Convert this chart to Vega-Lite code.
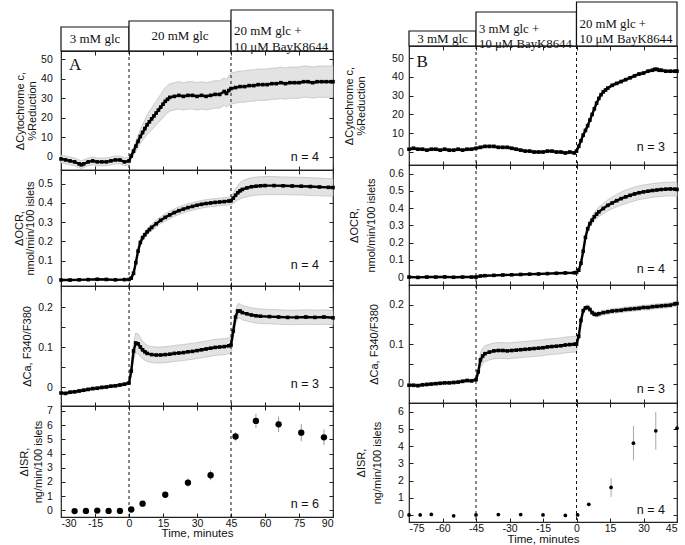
{
  "$schema": "https://vega.github.io/schema/vega-lite/v6.json",
  "background": "white",
  "padding": {"left": 12, "top": 1, "right": 0, "bottom": 0},
  "config": {
    "view": {"stroke": "#222", "strokeWidth": 1.2},
    "axis": {"domain": false, "grid": false, "tickSize": -4, "tickColor": "#222", "labelFont": "Liberation Sans", "labelFontSize": 10.5, "labelColor": "#111", "titleFont": "Liberation Sans", "titleFontSize": 11, "titleFontWeight": "normal", "titleColor": "#111"}
  },
  "spacing": 4,
  "hconcat": [
    {
      "spacing": 0,
      "bounds": "flush",
      "vconcat": [
        {
          "width": 272, "height": 49,
          "view": {"stroke": null},
          "data": {"name": "hA"},
          "transform": [{"calculate": "datum.level/2", "as": "mid"}, {"calculate": "(datum.x1+datum.x2)/2", "as": "cx"}],
          "layer": [
            {"mark": {"type": "rect", "fill": "white", "stroke": "#111", "strokeWidth": 1.2},
             "encoding": {
               "x": {"field": "x1", "type": "quantitative", "scale": {"domain": [-30, 90], "nice": false}, "axis": null},
               "x2": {"field": "x2"},
               "y": {"field": "level", "type": "quantitative", "scale": {"domain": [0, 49], "nice": false}, "axis": null},
               "y2": {"datum": 0}}},
            {"transform": [{"filter": "datum.lines == 1"}],
             "mark": {"type": "text", "font": "Liberation Serif", "fontSize": 13, "align": "center", "baseline": "middle", "color": "#111"},
             "encoding": {
               "x": {"field": "cx", "type": "quantitative", "scale": {"domain": [-30, 90], "nice": false}, "axis": null},
               "y": {"field": "mid", "type": "quantitative", "scale": {"domain": [0, 49], "nice": false}, "axis": null},
               "text": {"field": "label"}}},
            {"transform": [{"filter": "datum.lines == 2"}],
             "mark": {"type": "text", "font": "Liberation Serif", "fontSize": 13, "align": "left", "baseline": "middle", "dx": 3, "lineBreak": "\n", "lineHeight": 16, "color": "#111"},
             "encoding": {
               "x": {"field": "x1", "type": "quantitative", "scale": {"domain": [-30, 90], "nice": false}, "axis": null},
               "y": {"field": "mid", "type": "quantitative", "scale": {"domain": [0, 49], "nice": false}, "axis": null},
               "text": {"field": "label"}}}
          ]
        },
        {
          "width": 272, "height": 119,
          "layer": [
            {"data": {"name": "A1"},
             "transform": [{"calculate": "datum.v-datum.e", "as": "lo"}, {"calculate": "datum.v+datum.e", "as": "hi"}],
             "mark": {"type": "area", "fill": "#e3e3e3", "stroke": "#b3b3b3", "strokeWidth": 0.6},
             "encoding": {
               "x": {"field": "t", "type": "quantitative", "scale": {"domain": [-30, 90], "nice": false}, "axis": {"orient": "top", "labels": false, "title": null, "values": [-30, -15, 0, 15, 30, 45, 60, 75, 90]}},
               "y": {"field": "lo", "type": "quantitative", "scale": {"domain": [-6.65, 54.2], "nice": false}, "axis": {"orient": "right", "labels": false, "title": null, "values": [0, 10, 20, 30, 40, 50]}},
               "y2": {"field": "hi"}}},
            {"data": {"name": "bA"},
             "mark": {"type": "rule", "color": "#111", "strokeDash": [3, 3], "strokeWidth": 1},
             "encoding": {"x": {"field": "t", "type": "quantitative", "scale": {"domain": [-30, 90], "nice": false}, "axis": null}}},
            {"data": {"name": "A1"},
             "mark": {"type": "line", "color": "#000", "strokeWidth": 2.4},
             "encoding": {
               "x": {"field": "t", "type": "quantitative", "scale": {"domain": [-30, 90], "nice": false}, "axis": {"orient": "bottom", "labels": false, "title": null, "values": [-30, -15, 0, 15, 30, 45, 60, 75, 90]}},
               "y": {"field": "v", "type": "quantitative", "scale": {"domain": [-6.65, 54.2], "nice": false}, "axis": {"orient": "left", "values": [0, 10, 20, 30, 40, 50], "labelExpr": "''+datum.value", "labelPadding": 12.7, "title": ["ΔCytochrome c,", "%Reduction"], "titleX": -35.3, "titleLineHeight": 12}}}},
            {"data": {"name": "A1"},
             "mark": {"type": "square", "color": "#000", "size": 13, "opacity": 1},
             "encoding": {
               "x": {"field": "t", "type": "quantitative", "axis": null},
               "y": {"field": "v", "type": "quantitative", "axis": null}}},
            {"data": {"values": [{"label": "n = 4"}]},
             "mark": {"type": "text", "font": "Liberation Sans", "fontSize": 12.5, "align": "right", "baseline": "middle", "dx": -14, "color": "#111"},
             "encoding": {"x": {"datum": 90, "type": "quantitative", "axis": null}, "y": {"datum": 0, "type": "quantitative", "axis": null}, "text": {"field": "label"}}},
            {"data": {"values": [{"label": "A"}]},
             "mark": {"type": "text", "font": "Liberation Serif", "fontSize": 17, "align": "left", "baseline": "alphabetic", "color": "#111"},
             "encoding": {"x": {"datum": -26.5, "type": "quantitative", "axis": null}, "y": {"datum": 44.5, "type": "quantitative", "axis": null}, "text": {"field": "label"}}}
          ],
          "resolve": {"axis": {"x": "independent", "y": "independent"}}
        },
        {
          "width": 272, "height": 116,
          "layer": [
            {"data": {"name": "A2"},
             "transform": [{"calculate": "datum.v-datum.e", "as": "lo"}, {"calculate": "datum.v+datum.e", "as": "hi"}],
             "mark": {"type": "area", "fill": "#e3e3e3", "stroke": "#b3b3b3", "strokeWidth": 0.6},
             "encoding": {
               "x": {"field": "t", "type": "quantitative", "scale": {"domain": [-30, 90], "nice": false}, "axis": {"orient": "top", "labels": false, "title": null, "values": [-30, -15, 0, 15, 30, 45, 60, 75, 90]}},
               "y": {"field": "lo", "type": "quantitative", "scale": {"domain": [-0.031, 0.571], "nice": false}, "axis": {"orient": "right", "labels": false, "title": null, "values": [0, 0.1, 0.2, 0.3, 0.4, 0.5]}},
               "y2": {"field": "hi"}}},
            {"data": {"name": "bA"},
             "mark": {"type": "rule", "color": "#111", "strokeDash": [3, 3], "strokeWidth": 1},
             "encoding": {"x": {"field": "t", "type": "quantitative", "scale": {"domain": [-30, 90], "nice": false}, "axis": null}}},
            {"data": {"name": "A2"},
             "mark": {"type": "line", "color": "#000", "strokeWidth": 2.4},
             "encoding": {
               "x": {"field": "t", "type": "quantitative", "scale": {"domain": [-30, 90], "nice": false}, "axis": {"orient": "bottom", "labels": false, "title": null, "values": [-30, -15, 0, 15, 30, 45, 60, 75, 90]}},
               "y": {"field": "v", "type": "quantitative", "scale": {"domain": [-0.031, 0.571], "nice": false}, "axis": {"orient": "left", "values": [0, 0.1, 0.2, 0.3, 0.4, 0.5], "labelExpr": "''+datum.value", "labelPadding": 12.7, "title": ["ΔOCR,", "nmol/min/100 islets"], "titleX": -37, "titleLineHeight": 11.5}}}},
            {"data": {"name": "A2"},
             "mark": {"type": "square", "color": "#000", "size": 13, "opacity": 1},
             "encoding": {
               "x": {"field": "t", "type": "quantitative", "axis": null},
               "y": {"field": "v", "type": "quantitative", "axis": null}}},
            {"data": {"values": [{"label": "n = 4"}]},
             "mark": {"type": "text", "font": "Liberation Sans", "fontSize": 12.5, "align": "right", "baseline": "middle", "dx": -14, "color": "#111"},
             "encoding": {"x": {"datum": 90, "type": "quantitative", "axis": null}, "y": {"datum": 0.076, "type": "quantitative", "axis": null}, "text": {"field": "label"}}}
          ],
          "resolve": {"axis": {"x": "independent", "y": "independent"}}
        },
        {
          "width": 272, "height": 120,
          "layer": [
            {"data": {"name": "A3"},
             "transform": [{"calculate": "datum.v-datum.e", "as": "lo"}, {"calculate": "datum.v+datum.e", "as": "hi"}],
             "mark": {"type": "area", "fill": "#e3e3e3", "stroke": "#b3b3b3", "strokeWidth": 0.6},
             "encoding": {
               "x": {"field": "t", "type": "quantitative", "scale": {"domain": [-30, 90], "nice": false}, "axis": {"orient": "top", "labels": false, "title": null, "values": [-30, -15, 0, 15, 30, 45, 60, 75, 90]}},
               "y": {"field": "lo", "type": "quantitative", "scale": {"domain": [-0.0475, 0.2525], "nice": false}, "axis": {"orient": "right", "labels": false, "title": null, "values": [0, 0.05, 0.1, 0.15, 0.2]}},
               "y2": {"field": "hi"}}},
            {"data": {"name": "bA"},
             "mark": {"type": "rule", "color": "#111", "strokeDash": [3, 3], "strokeWidth": 1},
             "encoding": {"x": {"field": "t", "type": "quantitative", "scale": {"domain": [-30, 90], "nice": false}, "axis": null}}},
            {"data": {"name": "A3"},
             "mark": {"type": "line", "color": "#000", "strokeWidth": 2.4},
             "encoding": {
               "x": {"field": "t", "type": "quantitative", "scale": {"domain": [-30, 90], "nice": false}, "axis": {"orient": "bottom", "labels": false, "title": null, "values": [-30, -15, 0, 15, 30, 45, 60, 75, 90]}},
               "y": {"field": "v", "type": "quantitative", "scale": {"domain": [-0.0475, 0.2525], "nice": false}, "axis": {"orient": "left", "values": [0, 0.05, 0.1, 0.15, 0.2], "labelExpr": "round(datum.value*20)%2==0 ? ''+datum.value : ''", "labelPadding": 12.7, "title": "ΔCa, F340/F380", "titleX": -28.7}}}},
            {"data": {"name": "A3"},
             "mark": {"type": "square", "color": "#000", "size": 13, "opacity": 1},
             "encoding": {
               "x": {"field": "t", "type": "quantitative", "axis": null},
               "y": {"field": "v", "type": "quantitative", "axis": null}}},
            {"data": {"values": [{"label": "n = 3"}]},
             "mark": {"type": "text", "font": "Liberation Sans", "fontSize": 12.5, "align": "right", "baseline": "middle", "dx": -14, "color": "#111"},
             "encoding": {"x": {"datum": 90, "type": "quantitative", "axis": null}, "y": {"datum": 0.008, "type": "quantitative", "axis": null}, "text": {"field": "label"}}}
          ],
          "resolve": {"axis": {"x": "independent", "y": "independent"}}
        },
        {
          "width": 272, "height": 111,
          "layer": [
            {"data": {"name": "A4"},
             "transform": [{"calculate": "datum.v-datum.e", "as": "lo"}, {"calculate": "datum.v+datum.e", "as": "hi"}],
             "mark": {"type": "rule", "color": "#9a9a9a", "strokeWidth": 1},
             "encoding": {
               "x": {"field": "t", "type": "quantitative", "scale": {"domain": [-30, 90], "nice": false}, "axis": {"orient": "top", "labels": false, "title": null, "values": [-30, -15, 0, 15, 30, 45, 60, 75, 90]}},
               "y": {"field": "lo", "type": "quantitative", "scale": {"domain": [-0.47, 7.35], "nice": false}, "axis": {"orient": "right", "labels": false, "title": null, "values": [0, 1, 2, 3, 4, 5, 6, 7]}},
               "y2": {"field": "hi"}}},
            {"data": {"name": "bA"},
             "mark": {"type": "rule", "color": "#111", "strokeDash": [3, 3], "strokeWidth": 1},
             "encoding": {"x": {"field": "t", "type": "quantitative", "scale": {"domain": [-30, 90], "nice": false}, "axis": null}}},
            {"data": {"name": "A4"},
             "mark": {"type": "circle", "color": "#000", "size": 40, "opacity": 1},
             "encoding": {
               "x": {"field": "t", "type": "quantitative", "scale": {"domain": [-30, 90], "nice": false}, "axis": {"orient": "bottom", "values": [-30, -15, 0, 15, 30, 45, 60, 75, 90], "labelExpr": "''+datum.value", "labelPadding": 5, "title": "Time, minutes", "titlePadding": -1, "titleFontSize": 11.5}},
               "y": {"field": "v", "type": "quantitative", "scale": {"domain": [-0.47, 7.35], "nice": false}, "axis": {"orient": "left", "values": [0, 1, 2, 3, 4, 5, 6, 7], "labelExpr": "''+datum.value", "labelPadding": 12.7, "title": ["ΔISR,", "ng/min/100 islets"], "titleX": -32, "titleLineHeight": 14}}}},
            {"data": {"values": [{"label": "n = 6"}]},
             "mark": {"type": "text", "font": "Liberation Sans", "fontSize": 12.5, "align": "right", "baseline": "middle", "dx": -14, "color": "#111"},
             "encoding": {"x": {"datum": 90, "type": "quantitative", "axis": null}, "y": {"datum": 0.42, "type": "quantitative", "axis": null}, "text": {"field": "label"}}}
          ],
          "resolve": {"axis": {"x": "independent", "y": "independent"}}
        }
      ]
    },
    {
      "spacing": 0,
      "bounds": "flush",
      "vconcat": [
        {
          "width": 268, "height": 44,
          "view": {"stroke": null},
          "data": {"name": "hB"},
          "transform": [{"calculate": "datum.level/2", "as": "mid"}, {"calculate": "(datum.x1+datum.x2)/2", "as": "cx"}],
          "layer": [
            {"mark": {"type": "rect", "fill": "white", "stroke": "#111", "strokeWidth": 1.2},
             "encoding": {
               "x": {"field": "x1", "type": "quantitative", "scale": {"domain": [-75, 45], "nice": false}, "axis": null},
               "x2": {"field": "x2"},
               "y": {"field": "level", "type": "quantitative", "scale": {"domain": [0, 44], "nice": false}, "axis": null},
               "y2": {"datum": 0}}},
            {"transform": [{"filter": "datum.lines == 1"}],
             "mark": {"type": "text", "font": "Liberation Serif", "fontSize": 13, "align": "center", "baseline": "middle", "color": "#111"},
             "encoding": {
               "x": {"field": "cx", "type": "quantitative", "scale": {"domain": [-75, 45], "nice": false}, "axis": null},
               "y": {"field": "mid", "type": "quantitative", "scale": {"domain": [0, 44], "nice": false}, "axis": null},
               "text": {"field": "label"}}},
            {"transform": [{"filter": "datum.lines == 2"}],
             "mark": {"type": "text", "font": "Liberation Serif", "fontSize": 12.8, "align": "left", "baseline": "middle", "dx": 3, "lineBreak": "\n", "lineHeight": 15, "color": "#111"},
             "encoding": {
               "x": {"field": "x1", "type": "quantitative", "scale": {"domain": [-75, 45], "nice": false}, "axis": null},
               "y": {"field": "mid", "type": "quantitative", "scale": {"domain": [0, 44], "nice": false}, "axis": null},
               "text": {"field": "label"}}}
          ]
        },
        {
          "width": 268, "height": 119,
          "layer": [
            {"data": {"name": "B1"},
             "transform": [{"calculate": "datum.v-datum.e", "as": "lo"}, {"calculate": "datum.v+datum.e", "as": "hi"}],
             "mark": {"type": "area", "fill": "#e3e3e3", "stroke": "#b3b3b3", "strokeWidth": 0.6},
             "encoding": {
               "x": {"field": "t", "type": "quantitative", "scale": {"domain": [-75, 45], "nice": false}, "axis": {"orient": "top", "labels": false, "title": null, "values": [-75, -60, -45, -30, -15, 0, 15, 30, 45]}},
               "y": {"field": "lo", "type": "quantitative", "scale": {"domain": [-6.9, 56.4], "nice": false}, "axis": {"orient": "right", "labels": false, "title": null, "values": [0, 10, 20, 30, 40, 50]}},
               "y2": {"field": "hi"}}},
            {"data": {"name": "bB"},
             "mark": {"type": "rule", "color": "#111", "strokeDash": [3, 3], "strokeWidth": 1},
             "encoding": {"x": {"field": "t", "type": "quantitative", "scale": {"domain": [-75, 45], "nice": false}, "axis": null}}},
            {"data": {"name": "B1"},
             "mark": {"type": "line", "color": "#000", "strokeWidth": 2.4},
             "encoding": {
               "x": {"field": "t", "type": "quantitative", "scale": {"domain": [-75, 45], "nice": false}, "axis": {"orient": "bottom", "labels": false, "title": null, "values": [-75, -60, -45, -30, -15, 0, 15, 30, 45]}},
               "y": {"field": "v", "type": "quantitative", "scale": {"domain": [-6.9, 56.4], "nice": false}, "axis": {"orient": "left", "values": [0, 10, 20, 30, 40, 50], "labelExpr": "''+datum.value", "labelPadding": 9.7, "title": ["ΔCytochrome c,", "%Reduction"], "titleX": -54.3, "titleLineHeight": 11.6}}}},
            {"data": {"name": "B1"},
             "mark": {"type": "square", "color": "#000", "size": 13, "opacity": 1},
             "encoding": {
               "x": {"field": "t", "type": "quantitative", "axis": null},
               "y": {"field": "v", "type": "quantitative", "axis": null}}},
            {"data": {"values": [{"label": "n = 3"}]},
             "mark": {"type": "text", "font": "Liberation Sans", "fontSize": 12.5, "align": "right", "baseline": "middle", "dx": -12, "color": "#111"},
             "encoding": {"x": {"datum": 45, "type": "quantitative", "axis": null}, "y": {"datum": 2.7, "type": "quantitative", "axis": null}, "text": {"field": "label"}}},
            {"data": {"values": [{"label": "B"}]},
             "mark": {"type": "text", "font": "Liberation Serif", "fontSize": 17, "align": "left", "baseline": "alphabetic", "color": "#111"},
             "encoding": {"x": {"datum": -71.6, "type": "quantitative", "axis": null}, "y": {"datum": 45.2, "type": "quantitative", "axis": null}, "text": {"field": "label"}}}
          ],
          "resolve": {"axis": {"x": "independent", "y": "independent"}}
        },
        {
          "width": 268, "height": 120,
          "layer": [
            {"data": {"name": "B2"},
             "transform": [{"calculate": "datum.v-datum.e", "as": "lo"}, {"calculate": "datum.v+datum.e", "as": "hi"}],
             "mark": {"type": "area", "fill": "#e3e3e3", "stroke": "#b3b3b3", "strokeWidth": 0.6},
             "encoding": {
               "x": {"field": "t", "type": "quantitative", "scale": {"domain": [-75, 45], "nice": false}, "axis": {"orient": "top", "labels": false, "title": null, "values": [-75, -60, -45, -30, -15, 0, 15, 30, 45]}},
               "y": {"field": "lo", "type": "quantitative", "scale": {"domain": [-0.046, 0.65], "nice": false}, "axis": {"orient": "right", "labels": false, "title": null, "values": [0, 0.1, 0.2, 0.3, 0.4, 0.5, 0.6]}},
               "y2": {"field": "hi"}}},
            {"data": {"name": "bB"},
             "mark": {"type": "rule", "color": "#111", "strokeDash": [3, 3], "strokeWidth": 1},
             "encoding": {"x": {"field": "t", "type": "quantitative", "scale": {"domain": [-75, 45], "nice": false}, "axis": null}}},
            {"data": {"name": "B2"},
             "mark": {"type": "line", "color": "#000", "strokeWidth": 2.4},
             "encoding": {
               "x": {"field": "t", "type": "quantitative", "scale": {"domain": [-75, 45], "nice": false}, "axis": {"orient": "bottom", "labels": false, "title": null, "values": [-75, -60, -45, -30, -15, 0, 15, 30, 45]}},
               "y": {"field": "v", "type": "quantitative", "scale": {"domain": [-0.046, 0.65], "nice": false}, "axis": {"orient": "left", "values": [0, 0.1, 0.2, 0.3, 0.4, 0.5, 0.6], "labelExpr": "''+datum.value", "labelPadding": 9.7, "title": ["ΔOCR,", "nmol/min/100 islets"], "titleX": -49.3, "titleLineHeight": 17}}}},
            {"data": {"name": "B2"},
             "mark": {"type": "square", "color": "#000", "size": 13, "opacity": 1},
             "encoding": {
               "x": {"field": "t", "type": "quantitative", "axis": null},
               "y": {"field": "v", "type": "quantitative", "axis": null}}},
            {"data": {"values": [{"label": "n = 4"}]},
             "mark": {"type": "text", "font": "Liberation Sans", "fontSize": 12.5, "align": "right", "baseline": "middle", "dx": -12, "color": "#111"},
             "encoding": {"x": {"datum": 45, "type": "quantitative", "axis": null}, "y": {"datum": 0.048, "type": "quantitative", "axis": null}, "text": {"field": "label"}}}
          ],
          "resolve": {"axis": {"x": "independent", "y": "independent"}}
        },
        {
          "width": 268, "height": 118,
          "layer": [
            {"data": {"name": "B3"},
             "transform": [{"calculate": "datum.v-datum.e", "as": "lo"}, {"calculate": "datum.v+datum.e", "as": "hi"}],
             "mark": {"type": "area", "fill": "#e3e3e3", "stroke": "#b3b3b3", "strokeWidth": 0.6},
             "encoding": {
               "x": {"field": "t", "type": "quantitative", "scale": {"domain": [-75, 45], "nice": false}, "axis": {"orient": "top", "labels": false, "title": null, "values": [-75, -60, -45, -30, -15, 0, 15, 30, 45]}},
               "y": {"field": "lo", "type": "quantitative", "scale": {"domain": [-0.049, 0.25], "nice": false}, "axis": {"orient": "right", "labels": false, "title": null, "values": [0, 0.05, 0.1, 0.15, 0.2]}},
               "y2": {"field": "hi"}}},
            {"data": {"name": "bB"},
             "mark": {"type": "rule", "color": "#111", "strokeDash": [3, 3], "strokeWidth": 1},
             "encoding": {"x": {"field": "t", "type": "quantitative", "scale": {"domain": [-75, 45], "nice": false}, "axis": null}}},
            {"data": {"name": "B3"},
             "mark": {"type": "line", "color": "#000", "strokeWidth": 2.4},
             "encoding": {
               "x": {"field": "t", "type": "quantitative", "scale": {"domain": [-75, 45], "nice": false}, "axis": {"orient": "bottom", "labels": false, "title": null, "values": [-75, -60, -45, -30, -15, 0, 15, 30, 45]}},
               "y": {"field": "v", "type": "quantitative", "scale": {"domain": [-0.049, 0.25], "nice": false}, "axis": {"orient": "left", "values": [0, 0.05, 0.1, 0.15, 0.2], "labelExpr": "round(datum.value*20)%2==0 ? ''+datum.value : ''", "labelPadding": 9.7, "title": "ΔCa, F340/F380", "titleX": -29.3}}}},
            {"data": {"name": "B3"},
             "mark": {"type": "square", "color": "#000", "size": 13, "opacity": 1},
             "encoding": {
               "x": {"field": "t", "type": "quantitative", "axis": null},
               "y": {"field": "v", "type": "quantitative", "axis": null}}},
            {"data": {"values": [{"label": "n = 3"}]},
             "mark": {"type": "text", "font": "Liberation Sans", "fontSize": 12.5, "align": "right", "baseline": "middle", "dx": -12, "color": "#111"},
             "encoding": {"x": {"datum": 45, "type": "quantitative", "axis": null}, "y": {"datum": -0.014, "type": "quantitative", "axis": null}, "text": {"field": "label"}}}
          ],
          "resolve": {"axis": {"x": "independent", "y": "independent"}}
        },
        {
          "width": 268, "height": 119,
          "layer": [
            {"data": {"name": "B4"},
             "transform": [{"calculate": "datum.v-datum.e", "as": "lo"}, {"calculate": "datum.v+datum.e", "as": "hi"}],
             "mark": {"type": "rule", "color": "#a8a8a8", "strokeWidth": 1},
             "encoding": {
               "x": {"field": "t", "type": "quantitative", "scale": {"domain": [-75, 45], "nice": false}, "axis": {"orient": "top", "labels": false, "title": null, "values": [-75, -60, -45, -30, -15, 0, 15, 30, 45]}},
               "y": {"field": "lo", "type": "quantitative", "scale": {"domain": [-0.41, 6.52], "nice": false}, "axis": {"orient": "right", "labels": false, "title": null, "values": [0, 1, 2, 3, 4, 5, 6]}},
               "y2": {"field": "hi"}}},
            {"data": {"name": "bB"},
             "mark": {"type": "rule", "color": "#111", "strokeDash": [3, 3], "strokeWidth": 1},
             "encoding": {"x": {"field": "t", "type": "quantitative", "scale": {"domain": [-75, 45], "nice": false}, "axis": null}}},
            {"data": {"name": "B4"},
             "mark": {"type": "circle", "color": "#000", "size": 14, "opacity": 1},
             "encoding": {
               "x": {"field": "t", "type": "quantitative", "scale": {"domain": [-75, 45], "nice": false}, "axis": {"orient": "bottom", "values": [-75, -60, -45, -30, -15, 0, 15, 30, 45], "labelExpr": "''+datum.value", "labelPadding": 5, "title": "Time, minutes", "titlePadding": -0.5, "titleFontSize": 11.5}},
               "y": {"field": "v", "type": "quantitative", "scale": {"domain": [-0.41, 6.52], "nice": false}, "axis": {"orient": "left", "values": [0, 1, 2, 3, 4, 5, 6], "labelExpr": "''+datum.value", "labelPadding": 9.7, "title": ["ΔISR,", "ng/min/100 islets"], "titleX": -42.7, "titleLineHeight": 16.7}}}},
            {"data": {"values": [{"label": "n = 4"}]},
             "mark": {"type": "text", "font": "Liberation Sans", "fontSize": 12.5, "align": "right", "baseline": "middle", "dx": -12, "color": "#111"},
             "encoding": {"x": {"datum": 45, "type": "quantitative", "axis": null}, "y": {"datum": 0.27, "type": "quantitative", "axis": null}, "text": {"field": "label"}}}
          ],
          "resolve": {"axis": {"x": "independent", "y": "independent"}}
        }
      ]
    }
  ],
  "datasets": {
    "bA": [{"t": 0}, {"t": 45}],
    "bB": [{"t": -45}, {"t": 0}],
    "hA": [
      {"x1": -30, "x2": 0, "level": 24, "lines": 1, "label": "3 mM glc"},
      {"x1": 0, "x2": 45, "level": 30, "lines": 1, "label": "20 mM glc"},
      {"x1": 45, "x2": 90, "level": 41, "lines": 2, "label": "20 mM glc +\n10 μM BayK8644"}
    ],
    "hB": [
      {"x1": -75, "x2": -45, "level": 15, "lines": 1, "label": "3 mM glc"},
      {"x1": -45, "x2": 0, "level": 34, "lines": 2, "label": "3 mM glc +\n10 μM BayK8644"},
      {"x1": 0, "x2": 45, "level": 44, "lines": 2, "label": "20 mM glc +\n10 μM BayK8644"}
    ],
    "A1": [
      {"t": -30, "v": -1, "e": 2}, {"t": -28, "v": -1.5, "e": 2}, {"t": -26, "v": -2, "e": 2}, {"t": -24, "v": -2.5, "e": 2},
      {"t": -22, "v": -3.5, "e": 2}, {"t": -21, "v": -4, "e": 2}, {"t": -20, "v": -3.5, "e": 2}, {"t": -18, "v": -2.5, "e": 2},
      {"t": -16, "v": -2, "e": 2}, {"t": -14, "v": -2.5, "e": 2}, {"t": -12, "v": -2.5, "e": 2}, {"t": -10, "v": -2.5, "e": 2},
      {"t": -8, "v": -2, "e": 2}, {"t": -6, "v": -1.5, "e": 2}, {"t": -4, "v": -1.5, "e": 2}, {"t": -2, "v": -2.5, "e": 2},
      {"t": 0, "v": -2, "e": 2}, {"t": 1, "v": 0.5, "e": 1.5}, {"t": 2, "v": 3, "e": 2}, {"t": 3, "v": 5.5, "e": 2.5},
      {"t": 4, "v": 8, "e": 3}, {"t": 5, "v": 10.5, "e": 3.5}, {"t": 6, "v": 12.5, "e": 4}, {"t": 7, "v": 14.5, "e": 4.5},
      {"t": 8, "v": 16.5, "e": 5}, {"t": 9, "v": 18, "e": 5.5}, {"t": 10, "v": 19.5, "e": 5.5}, {"t": 11, "v": 21, "e": 6},
      {"t": 12, "v": 22.5, "e": 6}, {"t": 13, "v": 24, "e": 6.5}, {"t": 14, "v": 25.5, "e": 6.5}, {"t": 15, "v": 27, "e": 7},
      {"t": 16, "v": 28.5, "e": 7}, {"t": 17, "v": 29.5, "e": 7}, {"t": 18, "v": 30.5, "e": 7}, {"t": 20, "v": 31, "e": 7},
      {"t": 22, "v": 31.5, "e": 7}, {"t": 24, "v": 31, "e": 7}, {"t": 26, "v": 31.5, "e": 7}, {"t": 28, "v": 31.5, "e": 7},
      {"t": 30, "v": 31, "e": 7}, {"t": 32, "v": 31.5, "e": 7}, {"t": 34, "v": 31, "e": 7}, {"t": 36, "v": 31.5, "e": 7},
      {"t": 38, "v": 32, "e": 7}, {"t": 40, "v": 32, "e": 7}, {"t": 42, "v": 33.5, "e": 7}, {"t": 43, "v": 32.5, "e": 7},
      {"t": 44, "v": 34, "e": 7.5}, {"t": 45, "v": 35, "e": 8}, {"t": 47, "v": 35.5, "e": 8}, {"t": 49, "v": 36, "e": 8},
      {"t": 51, "v": 36, "e": 8}, {"t": 53, "v": 36.5, "e": 8}, {"t": 55, "v": 36.5, "e": 8}, {"t": 57, "v": 37, "e": 8},
      {"t": 59, "v": 37, "e": 8}, {"t": 61, "v": 37, "e": 8}, {"t": 63, "v": 37.5, "e": 8}, {"t": 65, "v": 37.5, "e": 8},
      {"t": 67, "v": 38, "e": 8}, {"t": 69, "v": 37.5, "e": 8}, {"t": 71, "v": 38, "e": 8}, {"t": 73, "v": 38, "e": 8},
      {"t": 75, "v": 38, "e": 8}, {"t": 77, "v": 38.5, "e": 8}, {"t": 79, "v": 38.5, "e": 8}, {"t": 81, "v": 38, "e": 8},
      {"t": 83, "v": 38.5, "e": 8}, {"t": 85, "v": 38.5, "e": 8}, {"t": 87, "v": 38.5, "e": 8}, {"t": 89, "v": 38.5, "e": 8},
      {"t": 90, "v": 38.5, "e": 8}
    ],
    "A2": [
      {"t": -30, "v": 0, "e": 0.003}, {"t": -26, "v": 0, "e": 0.003}, {"t": -22, "v": 0.001, "e": 0.003}, {"t": -18, "v": 0.002, "e": 0.003},
      {"t": -14, "v": 0.004, "e": 0.003}, {"t": -10, "v": 0.003, "e": 0.003}, {"t": -6, "v": 0.001, "e": 0.003}, {"t": -2, "v": 0.002, "e": 0.003},
      {"t": 0, "v": 0.003, "e": 0.003}, {"t": 1, "v": 0.01, "e": 0.005}, {"t": 2, "v": 0.035, "e": 0.008}, {"t": 3, "v": 0.09, "e": 0.01},
      {"t": 4, "v": 0.15, "e": 0.012}, {"t": 5, "v": 0.195, "e": 0.014}, {"t": 6, "v": 0.22, "e": 0.015}, {"t": 7, "v": 0.235, "e": 0.015},
      {"t": 8, "v": 0.25, "e": 0.016}, {"t": 9, "v": 0.262, "e": 0.016}, {"t": 10, "v": 0.273, "e": 0.017}, {"t": 12, "v": 0.292, "e": 0.018},
      {"t": 14, "v": 0.31, "e": 0.018}, {"t": 16, "v": 0.325, "e": 0.019}, {"t": 18, "v": 0.338, "e": 0.02}, {"t": 20, "v": 0.35, "e": 0.02},
      {"t": 22, "v": 0.36, "e": 0.02}, {"t": 24, "v": 0.368, "e": 0.02}, {"t": 26, "v": 0.376, "e": 0.02}, {"t": 28, "v": 0.382, "e": 0.02},
      {"t": 30, "v": 0.388, "e": 0.02}, {"t": 32, "v": 0.393, "e": 0.02}, {"t": 34, "v": 0.397, "e": 0.02}, {"t": 36, "v": 0.4, "e": 0.02},
      {"t": 38, "v": 0.403, "e": 0.02}, {"t": 40, "v": 0.405, "e": 0.02}, {"t": 42, "v": 0.407, "e": 0.02}, {"t": 44, "v": 0.41, "e": 0.02},
      {"t": 45, "v": 0.412, "e": 0.022}, {"t": 46, "v": 0.425, "e": 0.028}, {"t": 47, "v": 0.44, "e": 0.033}, {"t": 48, "v": 0.453, "e": 0.038},
      {"t": 49, "v": 0.463, "e": 0.042}, {"t": 50, "v": 0.47, "e": 0.045}, {"t": 52, "v": 0.478, "e": 0.046}, {"t": 54, "v": 0.484, "e": 0.047},
      {"t": 56, "v": 0.487, "e": 0.047}, {"t": 58, "v": 0.489, "e": 0.047}, {"t": 60, "v": 0.49, "e": 0.047}, {"t": 64, "v": 0.49, "e": 0.047},
      {"t": 68, "v": 0.489, "e": 0.046}, {"t": 72, "v": 0.488, "e": 0.046}, {"t": 76, "v": 0.487, "e": 0.046}, {"t": 80, "v": 0.485, "e": 0.046},
      {"t": 84, "v": 0.483, "e": 0.046}, {"t": 88, "v": 0.481, "e": 0.045}, {"t": 90, "v": 0.48, "e": 0.045}
    ],
    "A3": [
      {"t": -30, "v": -0.015, "e": 0.004}, {"t": -28, "v": -0.016, "e": 0.004}, {"t": -26, "v": -0.013, "e": 0.004}, {"t": -24, "v": -0.012, "e": 0.004},
      {"t": -22, "v": -0.01, "e": 0.004}, {"t": -20, "v": -0.008, "e": 0.004}, {"t": -18, "v": -0.006, "e": 0.004}, {"t": -16, "v": -0.004, "e": 0.004},
      {"t": -14, "v": -0.003, "e": 0.004}, {"t": -12, "v": -0.001, "e": 0.004}, {"t": -10, "v": 0, "e": 0.004}, {"t": -8, "v": 0.002, "e": 0.004},
      {"t": -6, "v": 0.003, "e": 0.004}, {"t": -4, "v": 0.005, "e": 0.004}, {"t": -2, "v": 0.007, "e": 0.004}, {"t": 0, "v": 0.01, "e": 0.004},
      {"t": 1, "v": 0.04, "e": 0.015}, {"t": 2, "v": 0.09, "e": 0.022}, {"t": 3, "v": 0.11, "e": 0.025}, {"t": 4, "v": 0.108, "e": 0.025},
      {"t": 5, "v": 0.1, "e": 0.024}, {"t": 6, "v": 0.093, "e": 0.022}, {"t": 7, "v": 0.088, "e": 0.021}, {"t": 8, "v": 0.084, "e": 0.02},
      {"t": 10, "v": 0.081, "e": 0.02}, {"t": 12, "v": 0.08, "e": 0.02}, {"t": 14, "v": 0.08, "e": 0.02}, {"t": 16, "v": 0.081, "e": 0.02},
      {"t": 18, "v": 0.082, "e": 0.02}, {"t": 20, "v": 0.084, "e": 0.02}, {"t": 22, "v": 0.085, "e": 0.02}, {"t": 24, "v": 0.086, "e": 0.02},
      {"t": 26, "v": 0.088, "e": 0.02}, {"t": 28, "v": 0.089, "e": 0.02}, {"t": 30, "v": 0.091, "e": 0.02}, {"t": 32, "v": 0.093, "e": 0.02},
      {"t": 34, "v": 0.095, "e": 0.02}, {"t": 36, "v": 0.097, "e": 0.02}, {"t": 38, "v": 0.099, "e": 0.02}, {"t": 40, "v": 0.1, "e": 0.02},
      {"t": 42, "v": 0.101, "e": 0.02}, {"t": 44, "v": 0.103, "e": 0.02}, {"t": 45, "v": 0.105, "e": 0.02}, {"t": 46, "v": 0.14, "e": 0.018},
      {"t": 47, "v": 0.175, "e": 0.018}, {"t": 48, "v": 0.19, "e": 0.018}, {"t": 49, "v": 0.19, "e": 0.018}, {"t": 50, "v": 0.186, "e": 0.018},
      {"t": 52, "v": 0.183, "e": 0.018}, {"t": 54, "v": 0.18, "e": 0.018}, {"t": 56, "v": 0.178, "e": 0.018}, {"t": 58, "v": 0.177, "e": 0.018},
      {"t": 62, "v": 0.176, "e": 0.018}, {"t": 66, "v": 0.175, "e": 0.018}, {"t": 70, "v": 0.174, "e": 0.018}, {"t": 74, "v": 0.174, "e": 0.018},
      {"t": 78, "v": 0.175, "e": 0.018}, {"t": 82, "v": 0.174, "e": 0.018}, {"t": 86, "v": 0.175, "e": 0.018}, {"t": 90, "v": 0.173, "e": 0.018}
    ],
    "A4": [
      {"t": -24, "v": -0.05, "e": 0.03}, {"t": -19, "v": -0.04, "e": 0.03}, {"t": -14, "v": -0.02, "e": 0.03}, {"t": -9, "v": -0.04, "e": 0.03},
      {"t": -4, "v": -0.04, "e": 0.03}, {"t": 1, "v": 0.06, "e": 0.05}, {"t": 6, "v": 0.47, "e": 0.06}, {"t": 16, "v": 1.1, "e": 0.1},
      {"t": 26, "v": 1.95, "e": 0.3}, {"t": 36, "v": 2.47, "e": 0.35}, {"t": 47, "v": 5.2, "e": 0.3}, {"t": 56, "v": 6.3, "e": 0.5},
      {"t": 66, "v": 6.06, "e": 0.55}, {"t": 76, "v": 5.47, "e": 0.6}, {"t": 86, "v": 5.14, "e": 0.55}
    ],
    "B1": [
      {"t": -75, "v": 1.5, "e": 0.8}, {"t": -73, "v": 2, "e": 0.8}, {"t": -71, "v": 1.5, "e": 0.8}, {"t": -69, "v": 1.5, "e": 0.8},
      {"t": -67, "v": 1, "e": 0.8}, {"t": -65, "v": 1.5, "e": 0.8}, {"t": -63, "v": 1.5, "e": 0.8}, {"t": -61, "v": 1, "e": 0.8},
      {"t": -59, "v": 1.5, "e": 0.8}, {"t": -57, "v": 1, "e": 0.8}, {"t": -55, "v": 1, "e": 0.8}, {"t": -53, "v": 1.5, "e": 0.8},
      {"t": -51, "v": 1, "e": 0.8}, {"t": -49, "v": 1.5, "e": 0.8}, {"t": -47, "v": 1.5, "e": 0.8}, {"t": -45, "v": 2, "e": 0.8},
      {"t": -43, "v": 2.5, "e": 0.8}, {"t": -41, "v": 3, "e": 0.8}, {"t": -39, "v": 3, "e": 0.8}, {"t": -37, "v": 3, "e": 0.8},
      {"t": -35, "v": 2.5, "e": 0.8}, {"t": -33, "v": 2.5, "e": 0.8}, {"t": -31, "v": 2.5, "e": 0.8}, {"t": -29, "v": 2, "e": 0.8},
      {"t": -27, "v": 1.5, "e": 0.8}, {"t": -25, "v": 1, "e": 0.8}, {"t": -23, "v": 0.5, "e": 0.8}, {"t": -21, "v": 0.5, "e": 0.8},
      {"t": -19, "v": 0, "e": 0.8}, {"t": -17, "v": 0, "e": 0.8}, {"t": -15, "v": 0, "e": 0.8}, {"t": -13, "v": 0.5, "e": 0.8},
      {"t": -11, "v": 0.5, "e": 0.8}, {"t": -9, "v": 0, "e": 0.8}, {"t": -7, "v": 0, "e": 0.8}, {"t": -5, "v": -0.5, "e": 0.8},
      {"t": -3, "v": 0, "e": 0.8}, {"t": -1, "v": -0.5, "e": 0.8}, {"t": 0, "v": 0.5, "e": 0.8}, {"t": 1, "v": 3, "e": 0.8},
      {"t": 2, "v": 6, "e": 0.8}, {"t": 3, "v": 9, "e": 0.8}, {"t": 4, "v": 11.5, "e": 0.8}, {"t": 5, "v": 14, "e": 0.8},
      {"t": 6, "v": 17, "e": 0.8}, {"t": 7, "v": 20, "e": 0.8}, {"t": 8, "v": 23, "e": 0.8}, {"t": 9, "v": 26, "e": 0.8},
      {"t": 10, "v": 28.5, "e": 0.8}, {"t": 11, "v": 30.5, "e": 0.8}, {"t": 12, "v": 32, "e": 0.8}, {"t": 13, "v": 33, "e": 0.8},
      {"t": 14, "v": 34, "e": 0.8}, {"t": 16, "v": 35.5, "e": 0.8}, {"t": 18, "v": 36.5, "e": 0.8}, {"t": 20, "v": 37.5, "e": 0.8},
      {"t": 22, "v": 38.5, "e": 0.8}, {"t": 24, "v": 39.5, "e": 0.8}, {"t": 26, "v": 40.5, "e": 0.8}, {"t": 28, "v": 41.5, "e": 0.8},
      {"t": 30, "v": 42, "e": 0.8}, {"t": 32, "v": 43, "e": 0.8}, {"t": 34, "v": 43.5, "e": 0.8}, {"t": 35, "v": 44, "e": 0.8},
      {"t": 36, "v": 44, "e": 0.8}, {"t": 37, "v": 43.5, "e": 0.8}, {"t": 38, "v": 43.5, "e": 0.8}, {"t": 40, "v": 43, "e": 0.8},
      {"t": 42, "v": 43, "e": 0.8}, {"t": 44, "v": 43, "e": 0.8}, {"t": 45, "v": 43, "e": 0.8}
    ],
    "B2": [
      {"t": -75, "v": 0, "e": 0.004}, {"t": -71, "v": -0.002, "e": 0.004}, {"t": -67, "v": 0, "e": 0.004}, {"t": -63, "v": 0, "e": 0.004},
      {"t": -59, "v": 0.001, "e": 0.004}, {"t": -55, "v": -0.001, "e": 0.004}, {"t": -51, "v": 0, "e": 0.004}, {"t": -47, "v": 0, "e": 0.004},
      {"t": -45, "v": 0, "e": 0.004}, {"t": -43, "v": 0.006, "e": 0.004}, {"t": -41, "v": 0.008, "e": 0.004}, {"t": -37, "v": 0.01, "e": 0.004},
      {"t": -33, "v": 0.012, "e": 0.004}, {"t": -29, "v": 0.013, "e": 0.004}, {"t": -25, "v": 0.015, "e": 0.004}, {"t": -21, "v": 0.017, "e": 0.004},
      {"t": -17, "v": 0.018, "e": 0.004}, {"t": -13, "v": 0.02, "e": 0.004}, {"t": -9, "v": 0.022, "e": 0.004}, {"t": -5, "v": 0.024, "e": 0.004},
      {"t": -1, "v": 0.025, "e": 0.004}, {"t": 0, "v": 0.027, "e": 0.004}, {"t": 1, "v": 0.04, "e": 0.008}, {"t": 2, "v": 0.08, "e": 0.01},
      {"t": 3, "v": 0.15, "e": 0.012}, {"t": 4, "v": 0.23, "e": 0.015}, {"t": 5, "v": 0.28, "e": 0.018}, {"t": 6, "v": 0.31, "e": 0.02},
      {"t": 7, "v": 0.33, "e": 0.022}, {"t": 8, "v": 0.35, "e": 0.024}, {"t": 9, "v": 0.365, "e": 0.026}, {"t": 10, "v": 0.378, "e": 0.028},
      {"t": 12, "v": 0.398, "e": 0.03}, {"t": 14, "v": 0.416, "e": 0.032}, {"t": 16, "v": 0.43, "e": 0.034}, {"t": 18, "v": 0.443, "e": 0.036},
      {"t": 20, "v": 0.455, "e": 0.038}, {"t": 22, "v": 0.465, "e": 0.04}, {"t": 24, "v": 0.474, "e": 0.04}, {"t": 26, "v": 0.482, "e": 0.04},
      {"t": 28, "v": 0.489, "e": 0.04}, {"t": 30, "v": 0.494, "e": 0.04}, {"t": 32, "v": 0.498, "e": 0.04}, {"t": 34, "v": 0.502, "e": 0.04},
      {"t": 36, "v": 0.505, "e": 0.04}, {"t": 38, "v": 0.508, "e": 0.04}, {"t": 40, "v": 0.51, "e": 0.04}, {"t": 42, "v": 0.511, "e": 0.04},
      {"t": 44, "v": 0.51, "e": 0.04}, {"t": 45, "v": 0.508, "e": 0.04}
    ],
    "B3": [
      {"t": -75, "v": -0.004, "e": 0.004}, {"t": -73, "v": -0.004, "e": 0.004}, {"t": -71, "v": -0.005, "e": 0.004}, {"t": -69, "v": -0.003, "e": 0.004},
      {"t": -67, "v": -0.002, "e": 0.004}, {"t": -65, "v": -0.001, "e": 0.004}, {"t": -63, "v": 0, "e": 0.004}, {"t": -61, "v": 0.001, "e": 0.004},
      {"t": -59, "v": 0.002, "e": 0.004}, {"t": -57, "v": 0.002, "e": 0.004}, {"t": -55, "v": 0.003, "e": 0.004}, {"t": -53, "v": 0.004, "e": 0.004},
      {"t": -51, "v": 0.006, "e": 0.004}, {"t": -49, "v": 0.008, "e": 0.004}, {"t": -47, "v": 0.007, "e": 0.004}, {"t": -45, "v": 0.01, "e": 0.004},
      {"t": -44, "v": 0.03, "e": 0.012}, {"t": -43, "v": 0.06, "e": 0.018}, {"t": -42, "v": 0.07, "e": 0.02}, {"t": -41, "v": 0.076, "e": 0.02},
      {"t": -39, "v": 0.08, "e": 0.02}, {"t": -37, "v": 0.083, "e": 0.02}, {"t": -35, "v": 0.084, "e": 0.02}, {"t": -33, "v": 0.084, "e": 0.02},
      {"t": -31, "v": 0.083, "e": 0.02}, {"t": -29, "v": 0.084, "e": 0.02}, {"t": -27, "v": 0.085, "e": 0.02}, {"t": -25, "v": 0.086, "e": 0.02},
      {"t": -23, "v": 0.087, "e": 0.02}, {"t": -21, "v": 0.088, "e": 0.02}, {"t": -19, "v": 0.089, "e": 0.02}, {"t": -17, "v": 0.09, "e": 0.02},
      {"t": -15, "v": 0.091, "e": 0.02}, {"t": -13, "v": 0.093, "e": 0.02}, {"t": -11, "v": 0.094, "e": 0.02}, {"t": -9, "v": 0.095, "e": 0.02},
      {"t": -7, "v": 0.096, "e": 0.02}, {"t": -5, "v": 0.098, "e": 0.02}, {"t": -3, "v": 0.099, "e": 0.02}, {"t": -1, "v": 0.1, "e": 0.02},
      {"t": 0, "v": 0.1, "e": 0.02}, {"t": 1, "v": 0.12, "e": 0.008}, {"t": 2, "v": 0.16, "e": 0.007}, {"t": 3, "v": 0.185, "e": 0.006},
      {"t": 4, "v": 0.192, "e": 0.006}, {"t": 5, "v": 0.193, "e": 0.006}, {"t": 6, "v": 0.188, "e": 0.006}, {"t": 7, "v": 0.18, "e": 0.006},
      {"t": 8, "v": 0.176, "e": 0.006}, {"t": 9, "v": 0.175, "e": 0.006}, {"t": 10, "v": 0.177, "e": 0.006}, {"t": 12, "v": 0.18, "e": 0.006},
      {"t": 14, "v": 0.182, "e": 0.006}, {"t": 16, "v": 0.184, "e": 0.006}, {"t": 18, "v": 0.185, "e": 0.006}, {"t": 20, "v": 0.186, "e": 0.006},
      {"t": 22, "v": 0.188, "e": 0.006}, {"t": 24, "v": 0.189, "e": 0.006}, {"t": 26, "v": 0.19, "e": 0.006}, {"t": 28, "v": 0.191, "e": 0.006},
      {"t": 30, "v": 0.193, "e": 0.006}, {"t": 32, "v": 0.193, "e": 0.006}, {"t": 34, "v": 0.195, "e": 0.006}, {"t": 36, "v": 0.196, "e": 0.006},
      {"t": 38, "v": 0.197, "e": 0.006}, {"t": 40, "v": 0.198, "e": 0.006}, {"t": 42, "v": 0.199, "e": 0.006}, {"t": 44, "v": 0.202, "e": 0.006},
      {"t": 45, "v": 0.203, "e": 0.006}
    ],
    "B4": [
      {"t": -75, "v": 0, "e": 0}, {"t": -70, "v": 0, "e": 0}, {"t": -65, "v": 0.03, "e": 0}, {"t": -55, "v": -0.05, "e": 0},
      {"t": -45, "v": 0, "e": 0}, {"t": -35, "v": 0.02, "e": 0}, {"t": -25, "v": 0.02, "e": 0}, {"t": -15, "v": 0, "e": 0},
      {"t": -5, "v": -0.03, "e": 0}, {"t": 0.5, "v": 0, "e": 0}, {"t": 5.5, "v": 0.62, "e": 0.05}, {"t": 15.5, "v": 1.6, "e": 0.55},
      {"t": 25.5, "v": 4.18, "e": 1.0}, {"t": 35.5, "v": 4.9, "e": 1.1}, {"t": 45, "v": 5.05, "e": 0}
    ]
  }
}
